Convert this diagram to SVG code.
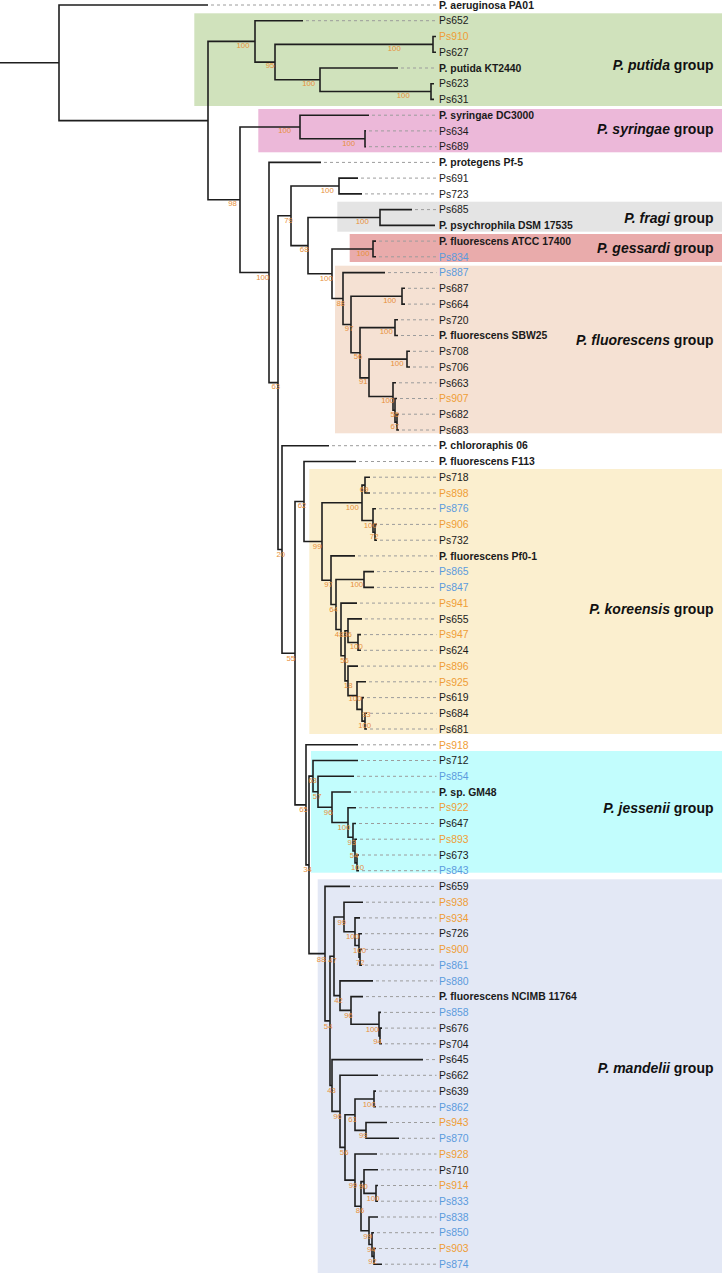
<svg xmlns="http://www.w3.org/2000/svg" width="722" height="1273" viewBox="0 0 722 1273">
<style>
.br{fill:none;stroke:#1e1e1e;stroke-width:1.6;stroke-linejoin:miter}
.ld{fill:none;stroke:#9c9c9c;stroke-width:1;stroke-dasharray:3 3}
.lf{font-family:"Liberation Sans",Arial,sans-serif;font-size:10.4px;fill:#1a1a1a}
.b{font-weight:bold}
.o{fill:#ef9d36}
.u{fill:#5b9bdd}
.bs{font-family:"Liberation Sans",Arial,sans-serif;font-size:7.8px;fill:#e8903a;text-anchor:middle}
.gl{font-family:"Liberation Sans",Arial,sans-serif;font-size:14px;font-weight:bold;text-anchor:end;fill:#111}
</style>
<rect width="722" height="1273" fill="#ffffff"/>
<g id="backgrounds">
<rect x="194.3" y="13.3" width="527.7" height="92.7" fill="#d0e2bc"/>
<rect x="258.3" y="109" width="463.7" height="43.3" fill="#ecb8d9"/>
<rect x="337.3" y="201.7" width="384.7" height="30" fill="#e4e4e4"/>
<rect x="349.7" y="234" width="372.3" height="28" fill="#e9abab"/>
<rect x="335" y="265.7" width="387" height="167.6" fill="#f5e1d3"/>
<rect x="309.3" y="469" width="412.7" height="265" fill="#fbefcf"/>
<rect x="311" y="751" width="411" height="121.7" fill="#c2fdfd"/>
<rect x="317.7" y="879.3" width="404.3" height="393.7" fill="#e3e8f5"/>
</g>
<g id="group-labels">
<text class="gl" x="713.5" y="69.5"><tspan font-style="italic">P. putida</tspan> group</text>
<text class="gl" x="713.5" y="134"><tspan font-style="italic">P. syringae</tspan> group</text>
<text class="gl" x="713.5" y="223.3"><tspan font-style="italic">P. fragi</tspan> group</text>
<text class="gl" x="713.5" y="253.3"><tspan font-style="italic">P. gessardi</tspan> group</text>
<text class="gl" x="713.5" y="345"><tspan font-style="italic">P. fluorescens</tspan> group</text>
<text class="gl" x="713.5" y="614"><tspan font-style="italic">P. koreensis</tspan> group</text>
<text class="gl" x="713.5" y="812.7"><tspan font-style="italic">P. jessenii</tspan> group</text>
<text class="gl" x="713.5" y="1073.3"><tspan font-style="italic">P. mandelii</tspan> group</text>
</g>
<g id="connectors">
<path class="ld" d="M211 5H436.5M306 20.7H436.5M401 68H436.5M372 115.2H436.5M369 130.9H436.5M369 146.7H436.5M324 162.4H436.5M361 178.1H436.5M365 193.9H436.5M415 209.6H436.5M379 241.1H436.5M379 256.8H436.5M388 272.6H436.5M408 288.3H436.5M408 304.1H436.5M401 319.8H436.5M401 335.5H436.5M413 351.3H436.5M413 367H436.5M399 382.8H436.5M400 398.5H436.5M402 414.2H436.5M402 430H436.5M332 445.7H436.5M359 461.5H436.5M373 477.2H436.5M373 493H436.5M379 508.7H436.5M380 524.4H436.5M380 540.2H436.5M358 555.9H436.5M377 571.6H436.5M377 587.4H436.5M360 603.1H436.5M365 618.9H436.5M364 634.6H436.5M364 650.3H436.5M361 666.1H436.5M369 681.8H436.5M367 697.6H436.5M370 713.3H436.5M370 729H436.5M361 744.8H436.5M361 760.5H436.5M357 776.3H436.5M354 792H436.5M359 807.7H436.5M359 823.5H436.5M360 839.2H436.5M362 855H436.5M362 870.7H436.5M353 886.4H436.5M366 902.2H436.5M363 917.9H436.5M365 933.7H436.5M365 949.4H436.5M365 965.1H436.5M376 980.9H436.5M366 996.6H436.5M384 1012.4H436.5M385 1028.1H436.5M385 1043.8H436.5M426 1059.6H436.5M381 1075.3H436.5M379 1091.1H436.5M379 1106.8H436.5M390 1122.5H436.5M402 1138.3H436.5M380 1154H436.5M381 1169.8H436.5M381 1185.5H436.5M381 1201.2H436.5M381 1217H436.5M377 1232.7H436.5M379 1248.5H436.5M385 1264.2H436.5"/>
<path class="br" d="M0 62.8H59"/>
<path class="br" d="M208 5H59V120.6H208"/>
<path class="br" d="M255 41.4H208V199.75H240"/>
<path class="br" d="M303 20.7H255V62.1H275"/>
<path class="br" d="M433 44.35H275V79.8H320"/>
<path class="br" d="M436 36.5H433V52.2H436"/>
<path class="br" d="M398 68H320V91.55H431"/>
<path class="br" d="M434 83.7H431V99.4H434"/>
<path class="br" d="M300 127H240V272.5H269"/>
<path class="br" d="M369 115.2H300V138.8H365"/>
<path class="br" d="M366 130.9H365V146.7H366"/>
<path class="br" d="M321 162.4H269V382.6H278"/>
<path class="br" d="M291 215.8H278V549.45H282"/>
<path class="br" d="M339 186H291V245.6H308"/>
<path class="br" d="M358 178.1H339V193.9H362"/>
<path class="br" d="M380 217.5H308V273.75H332"/>
<path class="br" d="M412 209.6H380V225.4H435"/>
<path class="br" d="M373 248.95H332V298.55H343"/>
<path class="br" d="M376 241.1H373V256.8H376"/>
<path class="br" d="M385 272.6H343V324.5H351"/>
<path class="br" d="M402 296.2H351V352.75H360"/>
<path class="br" d="M405 288.3H402V304.1H405"/>
<path class="br" d="M395 327.65H360V377.85H369"/>
<path class="br" d="M398 319.8H395V335.5H398"/>
<path class="br" d="M407 359.15H369V396.55H393"/>
<path class="br" d="M410 351.3H407V367H410"/>
<path class="br" d="M396 382.8H393V410.3H395"/>
<path class="br" d="M397 398.5H395V422.1H397"/>
<path class="br" d="M399 414.2H397V430H399"/>
<path class="br" d="M329 445.7H282V653.2H295"/>
<path class="br" d="M304 501.5H295V804.85H306"/>
<path class="br" d="M356 461.5H304V541.5H322"/>
<path class="br" d="M362 502.8H322V580.2H331"/>
<path class="br" d="M365 485.1H362V520.5H373"/>
<path class="br" d="M370 477.2H365V493H370"/>
<path class="br" d="M376 508.7H373V532.3H375"/>
<path class="br" d="M377 524.4H375V540.2H377"/>
<path class="br" d="M355 555.9H331V604.5H336"/>
<path class="br" d="M364 579.5H336V629.45H341"/>
<path class="br" d="M374 571.6H364V587.4H374"/>
<path class="br" d="M357 603.1H341V655.8H345"/>
<path class="br" d="M348 630.7H345V680.85H348"/>
<path class="br" d="M362 618.9H348V642.45H358"/>
<path class="br" d="M361 634.6H358V650.3H361"/>
<path class="br" d="M358 666.1H348V695.6H357"/>
<path class="br" d="M366 681.8H357V709.4H362"/>
<path class="br" d="M364 697.6H362V721.15H365"/>
<path class="br" d="M367 713.3H365V729H367"/>
<path class="br" d="M358 744.8H306V864.9H309"/>
<path class="br" d="M313 776.15H309V953.65H325"/>
<path class="br" d="M358 760.5H313V791.8H318"/>
<path class="br" d="M354 776.3H318V807.25H332"/>
<path class="br" d="M351 792H332V822.5H348"/>
<path class="br" d="M356 807.7H348V837.25H353"/>
<path class="br" d="M356 823.5H353V851H355"/>
<path class="br" d="M357 839.2H355V862.85H357"/>
<path class="br" d="M359 855H357V870.7H359"/>
<path class="br" d="M350 886.4H325V1020.9H330"/>
<path class="br" d="M334 956.3H330V1085.5H332"/>
<path class="br" d="M344 916.95H334V995.65H340"/>
<path class="br" d="M363 902.2H344V931.7H355"/>
<path class="br" d="M360 917.9H355V945.5H359"/>
<path class="br" d="M362 933.7H359V957.25H360"/>
<path class="br" d="M362 949.4H360V965.1H362"/>
<path class="br" d="M373 980.9H340V1010.4H351"/>
<path class="br" d="M363 996.6H351V1024.2H379"/>
<path class="br" d="M381 1012.4H379V1035.95H380"/>
<path class="br" d="M382 1028.1H380V1043.8H382"/>
<path class="br" d="M423 1059.6H332V1111.35H340"/>
<path class="br" d="M378 1075.3H340V1147.4H345"/>
<path class="br" d="M355 1114.7H345V1180.1H355"/>
<path class="br" d="M374 1098.95H355V1130.4H366"/>
<path class="br" d="M376 1091.1H374V1106.8H376"/>
<path class="br" d="M387 1122.5H366V1138.3H399"/>
<path class="br" d="M377 1154H355V1206.2H361"/>
<path class="br" d="M364 1181.6H361V1230.75H369"/>
<path class="br" d="M378 1169.8H364V1193.35H376"/>
<path class="br" d="M378 1185.5H376V1201.2H378"/>
<path class="br" d="M378 1217H369V1244.5H372"/>
<path class="br" d="M374 1232.7H372V1256.35H374"/>
<path class="br" d="M376 1248.5H374V1264.2H382"/>
</g>
<g id="support-values">
<text class="bs" x="243" y="47.7">100</text>
<text class="bs" x="270" y="68.3">95</text>
<text class="bs" x="394.3" y="51">100</text>
<text class="bs" x="308.7" y="86">100</text>
<text class="bs" x="403.3" y="97.7">100</text>
<text class="bs" x="284.7" y="133.3">100</text>
<text class="bs" x="348.7" y="145.7">100</text>
<text class="bs" x="327.3" y="192.7">100</text>
<text class="bs" x="232.5" y="206">98</text>
<text class="bs" x="288.5" y="222.7">79</text>
<text class="bs" x="362.3" y="224.3">100</text>
<text class="bs" x="304.2" y="252.3">68</text>
<text class="bs" x="363" y="255.7">100</text>
<text class="bs" x="262.7" y="280">100</text>
<text class="bs" x="326.3" y="281">100</text>
<text class="bs" x="340.8" y="305.7">88</text>
<text class="bs" x="389.7" y="302.7">100</text>
<text class="bs" x="349.2" y="331.3">97</text>
<text class="bs" x="386.3" y="334.3">100</text>
<text class="bs" x="358" y="359.3">56</text>
<text class="bs" x="397" y="366">100</text>
<text class="bs" x="363.3" y="384.3">91</text>
<text class="bs" x="275.8" y="389.3">63</text>
<text class="bs" x="387.7" y="403.3">100</text>
<text class="bs" x="394.8" y="417.3">55</text>
<text class="bs" x="394.8" y="429">67</text>
<text class="bs" x="364.2" y="492.3">69</text>
<text class="bs" x="302" y="508.3">62</text>
<text class="bs" x="352.3" y="510">100</text>
<text class="bs" x="370.3" y="527.7">100</text>
<text class="bs" x="374.2" y="539.3">72</text>
<text class="bs" x="317.2" y="549">99</text>
<text class="bs" x="280.8" y="556.7">20</text>
<text class="bs" x="328.5" y="586.7">97</text>
<text class="bs" x="356.7" y="586.7">100</text>
<text class="bs" x="333.5" y="611.7">64</text>
<text class="bs" x="339.2" y="636.7">48</text>
<text class="bs" x="347.5" y="636.7">36</text>
<text class="bs" x="356.3" y="649.3">100</text>
<text class="bs" x="290.8" y="660.7">55</text>
<text class="bs" x="344.5" y="662.7">56</text>
<text class="bs" x="348.2" y="687.7">18</text>
<text class="bs" x="355" y="701">100</text>
<text class="bs" x="366.2" y="716.7">93</text>
<text class="bs" x="364.7" y="727.7">100</text>
<text class="bs" x="312.5" y="783.3">63</text>
<text class="bs" x="317.2" y="799.3">57</text>
<text class="bs" x="303.5" y="812.3">65</text>
<text class="bs" x="328.2" y="815">96</text>
<text class="bs" x="344" y="830">100</text>
<text class="bs" x="351.8" y="845">93</text>
<text class="bs" x="354.2" y="858.3">54</text>
<text class="bs" x="357.5" y="870">100</text>
<text class="bs" x="307.5" y="872.3">34</text>
<text class="bs" x="341.8" y="925">99</text>
<text class="bs" x="352.5" y="939.3">100</text>
<text class="bs" x="359.5" y="953.3">100</text>
<text class="bs" x="321.2" y="961.7">88</text>
<text class="bs" x="332.5" y="963.3">47</text>
<text class="bs" x="360.2" y="965">72</text>
<text class="bs" x="338.5" y="1002.7">42</text>
<text class="bs" x="348.5" y="1018">96</text>
<text class="bs" x="328.2" y="1028.7">54</text>
<text class="bs" x="372.2" y="1031.7">100</text>
<text class="bs" x="377.5" y="1043.7">94</text>
<text class="bs" x="331.5" y="1093.3">43</text>
<text class="bs" x="369.3" y="1106.7">100</text>
<text class="bs" x="337.5" y="1119">96</text>
<text class="bs" x="352.5" y="1122.3">61</text>
<text class="bs" x="363.3" y="1138">99</text>
<text class="bs" x="344.2" y="1155">56</text>
<text class="bs" x="353" y="1188.3">99</text>
<text class="bs" x="363.5" y="1189.3">90</text>
<text class="bs" x="373" y="1201">100</text>
<text class="bs" x="360" y="1213.3">86</text>
<text class="bs" x="367.5" y="1239">99</text>
<text class="bs" x="371.3" y="1252.3">94</text>
<text class="bs" x="372.5" y="1264.3">92</text>
</g>
<g id="leaf-PA01"><text class="lf b" x="439" y="8.7">P. aeruginosa PA01</text></g>
<g id="leaf-Ps652"><text class="lf" x="439" y="24.4">Ps652</text></g>
<g id="leaf-Ps910"><text class="lf o" x="439" y="40.2">Ps910</text></g>
<g id="leaf-Ps627"><text class="lf" x="439" y="55.9">Ps627</text></g>
<g id="leaf-KT2440"><text class="lf b" x="439" y="71.7">P. putida KT2440</text></g>
<g id="leaf-Ps623"><text class="lf" x="439" y="87.4">Ps623</text></g>
<g id="leaf-Ps631"><text class="lf" x="439" y="103.1">Ps631</text></g>
<g id="leaf-DC3000"><text class="lf b" x="439" y="118.9">P. syringae DC3000</text></g>
<g id="leaf-Ps634"><text class="lf" x="439" y="134.6">Ps634</text></g>
<g id="leaf-Ps689"><text class="lf" x="439" y="150.4">Ps689</text></g>
<g id="leaf-Pf5"><text class="lf b" x="439" y="166.1">P. protegens Pf-5</text></g>
<g id="leaf-Ps691"><text class="lf" x="439" y="181.8">Ps691</text></g>
<g id="leaf-Ps723"><text class="lf" x="439" y="197.6">Ps723</text></g>
<g id="leaf-Ps685"><text class="lf" x="439" y="213.3">Ps685</text></g>
<g id="leaf-DSM17535"><text class="lf b" x="439" y="229.1">P. psychrophila DSM 17535</text></g>
<g id="leaf-ATCC17400"><text class="lf b" x="439" y="244.8">P. fluorescens ATCC 17400</text></g>
<g id="leaf-Ps834"><text class="lf u" x="439" y="260.5">Ps834</text></g>
<g id="leaf-Ps887"><text class="lf u" x="439" y="276.3">Ps887</text></g>
<g id="leaf-Ps687"><text class="lf" x="439" y="292">Ps687</text></g>
<g id="leaf-Ps664"><text class="lf" x="439" y="307.8">Ps664</text></g>
<g id="leaf-Ps720"><text class="lf" x="439" y="323.5">Ps720</text></g>
<g id="leaf-SBW25"><text class="lf b" x="439" y="339.2">P. fluorescens SBW25</text></g>
<g id="leaf-Ps708"><text class="lf" x="439" y="355">Ps708</text></g>
<g id="leaf-Ps706"><text class="lf" x="439" y="370.7">Ps706</text></g>
<g id="leaf-Ps663"><text class="lf" x="439" y="386.5">Ps663</text></g>
<g id="leaf-Ps907"><text class="lf o" x="439" y="402.2">Ps907</text></g>
<g id="leaf-Ps682"><text class="lf" x="439" y="417.9">Ps682</text></g>
<g id="leaf-Ps683"><text class="lf" x="439" y="433.7">Ps683</text></g>
<g id="leaf-chlororaphis06"><text class="lf b" x="439" y="449.4">P. chlororaphis 06</text></g>
<g id="leaf-F113"><text class="lf b" x="439" y="465.2">P. fluorescens F113</text></g>
<g id="leaf-Ps718"><text class="lf" x="439" y="480.9">Ps718</text></g>
<g id="leaf-Ps898"><text class="lf o" x="439" y="496.7">Ps898</text></g>
<g id="leaf-Ps876"><text class="lf u" x="439" y="512.4">Ps876</text></g>
<g id="leaf-Ps906"><text class="lf o" x="439" y="528.1">Ps906</text></g>
<g id="leaf-Ps732"><text class="lf" x="439" y="543.9">Ps732</text></g>
<g id="leaf-Pf0-1"><text class="lf b" x="439" y="559.6">P. fluorescens Pf0-1</text></g>
<g id="leaf-Ps865"><text class="lf u" x="439" y="575.3">Ps865</text></g>
<g id="leaf-Ps847"><text class="lf u" x="439" y="591.1">Ps847</text></g>
<g id="leaf-Ps941"><text class="lf o" x="439" y="606.8">Ps941</text></g>
<g id="leaf-Ps655"><text class="lf" x="439" y="622.6">Ps655</text></g>
<g id="leaf-Ps947"><text class="lf o" x="439" y="638.3">Ps947</text></g>
<g id="leaf-Ps624"><text class="lf" x="439" y="654">Ps624</text></g>
<g id="leaf-Ps896"><text class="lf o" x="439" y="669.8">Ps896</text></g>
<g id="leaf-Ps925"><text class="lf o" x="439" y="685.5">Ps925</text></g>
<g id="leaf-Ps619"><text class="lf" x="439" y="701.3">Ps619</text></g>
<g id="leaf-Ps684"><text class="lf" x="439" y="717">Ps684</text></g>
<g id="leaf-Ps681"><text class="lf" x="439" y="732.7">Ps681</text></g>
<g id="leaf-Ps918"><text class="lf o" x="439" y="748.5">Ps918</text></g>
<g id="leaf-Ps712"><text class="lf" x="439" y="764.2">Ps712</text></g>
<g id="leaf-Ps854"><text class="lf u" x="439" y="780">Ps854</text></g>
<g id="leaf-GM48"><text class="lf b" x="439" y="795.7">P. sp. GM48</text></g>
<g id="leaf-Ps922"><text class="lf o" x="439" y="811.4">Ps922</text></g>
<g id="leaf-Ps647"><text class="lf" x="439" y="827.2">Ps647</text></g>
<g id="leaf-Ps893"><text class="lf o" x="439" y="842.9">Ps893</text></g>
<g id="leaf-Ps673"><text class="lf" x="439" y="858.7">Ps673</text></g>
<g id="leaf-Ps843"><text class="lf u" x="439" y="874.4">Ps843</text></g>
<g id="leaf-Ps659"><text class="lf" x="439" y="890.1">Ps659</text></g>
<g id="leaf-Ps938"><text class="lf o" x="439" y="905.9">Ps938</text></g>
<g id="leaf-Ps934"><text class="lf o" x="439" y="921.6">Ps934</text></g>
<g id="leaf-Ps726"><text class="lf" x="439" y="937.4">Ps726</text></g>
<g id="leaf-Ps900"><text class="lf o" x="439" y="953.1">Ps900</text></g>
<g id="leaf-Ps861"><text class="lf u" x="439" y="968.8">Ps861</text></g>
<g id="leaf-Ps880"><text class="lf u" x="439" y="984.6">Ps880</text></g>
<g id="leaf-NCIMB11764"><text class="lf b" x="439" y="1000.3">P. fluorescens NCIMB 11764</text></g>
<g id="leaf-Ps858"><text class="lf u" x="439" y="1016.1">Ps858</text></g>
<g id="leaf-Ps676"><text class="lf" x="439" y="1031.8">Ps676</text></g>
<g id="leaf-Ps704"><text class="lf" x="439" y="1047.5">Ps704</text></g>
<g id="leaf-Ps645"><text class="lf" x="439" y="1063.3">Ps645</text></g>
<g id="leaf-Ps662"><text class="lf" x="439" y="1079">Ps662</text></g>
<g id="leaf-Ps639"><text class="lf" x="439" y="1094.8">Ps639</text></g>
<g id="leaf-Ps862"><text class="lf u" x="439" y="1110.5">Ps862</text></g>
<g id="leaf-Ps943"><text class="lf o" x="439" y="1126.2">Ps943</text></g>
<g id="leaf-Ps870"><text class="lf u" x="439" y="1142">Ps870</text></g>
<g id="leaf-Ps928"><text class="lf o" x="439" y="1157.7">Ps928</text></g>
<g id="leaf-Ps710"><text class="lf" x="439" y="1173.5">Ps710</text></g>
<g id="leaf-Ps914"><text class="lf o" x="439" y="1189.2">Ps914</text></g>
<g id="leaf-Ps833"><text class="lf u" x="439" y="1204.9">Ps833</text></g>
<g id="leaf-Ps838"><text class="lf u" x="439" y="1220.7">Ps838</text></g>
<g id="leaf-Ps850"><text class="lf u" x="439" y="1236.4">Ps850</text></g>
<g id="leaf-Ps903"><text class="lf o" x="439" y="1252.2">Ps903</text></g>
<g id="leaf-Ps874"><text class="lf u" x="439" y="1267.9">Ps874</text></g>
</svg>
